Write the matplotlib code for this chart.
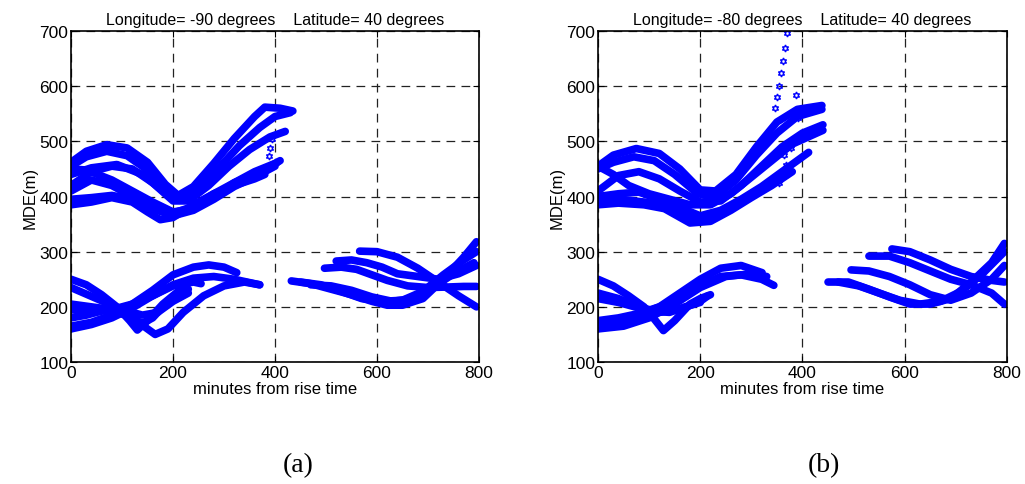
import matplotlib
matplotlib.use('Agg')
import matplotlib.pyplot as plt

titles = ['Longitude= -90 degrees    Latitude= 40 degrees',
          'Longitude= -80 degrees    Latitude= 40 degrees']
panel_tags = ['(a)', '(b)']

# panel (a): curves as (minutes, MDE) pairs
a_upper = [
    ([0, 30, 70, 110, 150, 185, 210, 240, 280, 320, 360, 380, 410, 435],
     [462, 482, 494, 488, 462, 422, 402, 418, 460, 505, 545, 562, 560, 555]),
    ([0, 30, 70, 110, 150, 190, 215, 250, 290, 330, 370, 400, 430],
     [455, 472, 482, 474, 448, 410, 395, 415, 452, 492, 525, 545, 552]),
    ([0, 40, 80, 120, 160, 200, 230, 270, 310, 350, 390, 420],
     [420, 445, 455, 450, 425, 392, 392, 420, 455, 485, 508, 518]),
    ([0, 30, 80, 120, 160, 200, 240, 280, 320, 360, 400, 410],
     [450, 448, 430, 410, 390, 372, 378, 400, 425, 445, 460, 465]),
    ([0, 40, 80, 120, 160, 200, 240, 280, 320, 360, 405],
     [410, 430, 420, 400, 380, 370, 382, 405, 425, 440, 462]),
    ([0, 40, 80, 120, 150, 175, 200, 240, 280, 320, 360, 380],
     [385, 390, 398, 390, 372, 358, 362, 385, 405, 420, 432, 440]),
    ([0, 40, 80, 120, 160, 200, 240, 280, 320, 370, 400],
     [395, 398, 402, 395, 378, 365, 375, 395, 418, 440, 455]),
    ([0, 40, 90, 140, 180, 210],
     [440, 452, 458, 440, 410, 395]),
]
a_lower = [
    ([0, 40, 80, 120, 160, 200, 240, 270, 300, 325],
     [165, 172, 185, 205, 230, 258, 272, 276, 272, 262]),
    ([0, 40, 80, 120, 160, 200, 240, 280, 320, 350, 370],
     [160, 168, 180, 198, 220, 240, 252, 255, 250, 244, 240]),
    ([0, 30, 60, 90, 115, 130, 150, 180, 210, 230],
     [250, 240, 222, 200, 175, 158, 175, 205, 228, 232]),
    ([0, 40, 80, 120, 150, 165, 190, 220, 260, 300, 340, 370],
     [205, 200, 195, 180, 160, 150, 160, 190, 220, 238, 245, 240]),
    ([0, 40, 80, 120, 160, 200, 240, 255],
     [195, 190, 195, 205, 220, 238, 245, 242]),
    ([0, 50, 100, 140, 170, 200, 230],
     [235, 215, 195, 185, 190, 210, 225]),
    ([0, 30, 70, 110, 140, 160, 180, 200, 220],
     [180, 185, 195, 185, 170, 180, 200, 215, 225]),
    ([432, 470, 510, 550, 590, 620, 650, 690, 730, 770, 795],
     [247, 242, 232, 222, 210, 203, 203, 215, 250, 290, 318]),
    ([450, 490, 530, 570, 610, 650, 690, 730, 770, 795],
     [245, 240, 228, 215, 210, 212, 228, 258, 285, 300]),
    ([470, 510, 550, 590, 630, 670, 710, 750, 790],
     [240, 238, 230, 218, 210, 215, 235, 260, 280]),
    ([497, 530, 560, 590, 620, 660, 700, 740, 770, 795],
     [270, 272, 268, 258, 248, 238, 235, 236, 237, 237]),
    ([520, 550, 580, 610, 640, 680, 720, 760, 795],
     [283, 285, 280, 272, 260, 255, 250, 260, 275]),
    ([566, 600, 640, 680, 720, 760, 795],
     [301, 300, 290, 270, 245, 220, 200]),
]
a_loose_x = [388, 390, 395]
a_loose_y = [473, 488, 505]

# panel (b)
b_upper = [
    ([0, 30, 75, 120, 160, 200, 230, 270, 310, 350, 390, 438],
     [455, 475, 487, 478, 450, 412, 410, 440, 490, 535, 558, 565]),
    ([0, 30, 70, 110, 150, 195, 230, 270, 310, 350, 390, 438],
     [450, 462, 472, 465, 440, 405, 400, 430, 475, 515, 545, 558]),
    ([0, 40, 80, 120, 160, 200, 240, 280, 320, 360, 400, 440],
     [410, 438, 445, 432, 410, 390, 392, 420, 455, 490, 515, 530]),
    ([0, 30, 60, 100, 140, 180, 220, 260, 300, 340, 380, 440],
     [455, 440, 420, 405, 395, 385, 385, 405, 435, 465, 495, 520]),
    ([0, 40, 80, 120, 160, 200, 240, 280, 320, 360, 412],
     [400, 405, 408, 395, 380, 365, 375, 395, 418, 445, 480]),
    ([0, 40, 90, 130, 180, 220, 260, 300, 340, 380],
     [385, 388, 385, 378, 352, 355, 375, 398, 420, 445]),
    ([0, 40, 90, 140, 180, 210, 250, 290, 330, 370],
     [395, 395, 390, 382, 365, 360, 372, 395, 418, 440]),
]
b_lower = [
    ([0, 40, 80, 120, 160, 200, 240, 280, 321],
     [165, 172, 185, 200, 225, 250, 270, 275, 262]),
    ([0, 40, 80, 120, 160, 200, 240, 280, 320, 344],
     [175, 180, 188, 200, 215, 238, 255, 258, 250, 239]),
    ([0, 30, 60, 90, 110, 128, 150, 180, 200, 220],
     [250, 238, 220, 200, 178, 157, 175, 205, 215, 222]),
    ([0, 40, 80, 120, 160, 200, 215],
     [225, 215, 200, 190, 195, 210, 220]),
    ([0, 40, 80, 110, 140, 170, 200],
     [215, 208, 198, 192, 190, 200, 208]),
    ([0, 50, 100, 150, 200, 250, 300, 330],
     [160, 165, 180, 205, 235, 255, 260, 255]),
    ([450, 490, 530, 570, 610, 650, 690, 730, 770, 795],
     [245, 245, 232, 218, 205, 205, 215, 245, 280, 315]),
    ([470, 510, 550, 590, 630, 670, 710, 750, 795],
     [245, 238, 225, 212, 205, 210, 228, 258, 300]),
    ([495, 530, 570, 610, 650, 690, 730, 770, 795],
     [267, 265, 255, 240, 222, 212, 225, 250, 275]),
    ([530, 570, 610, 650, 690, 730, 770, 795],
     [292, 292, 280, 265, 250, 240, 225, 205]),
    ([575, 610, 650, 690, 730, 770, 795],
     [305, 300, 285, 268, 255, 248, 245]),
]
b_loose_x = [347, 350, 354, 358, 362, 366, 370, 387, 391, 361, 363, 366, 368, 378, 358, 355]
b_loose_y = [561, 581, 601, 623, 646, 670, 696, 584, 543, 445, 475, 490, 457, 488, 433, 425]

plt.rcParams['font.family'] = ['Liberation Sans', 'DejaVu Sans']

fig = plt.figure(figsize=(10.25, 4.85), dpi=100)
ax_a = fig.add_axes([0.0693, 0.2515, 0.398, 0.6825])
ax_b = fig.add_axes([0.5834, 0.2515, 0.399, 0.6825])

panels = [
    (ax_a, a_upper + a_lower, a_loose_x, a_loose_y),
    (ax_b, b_upper + b_lower, b_loose_x, b_loose_y),
]

for i, (ax, curves, lx, ly) in enumerate(panels):
    for xs, ys in curves:
        ax.plot(xs, ys, color='#0000ff', lw=5.5, solid_capstyle='round',
                solid_joinstyle='round')
    ax.plot(lx, ly, ls='none', marker=(6, 1, 0), ms=5, mfc='none',
            mec='#0000ff', mew=1)
    ax.set_xlim(0, 800)
    ax.set_ylim(100, 700)
    ax.set_xticks([0, 200, 400, 600, 800])
    ax.set_yticks([100, 200, 300, 400, 500, 600, 700])
    ax.grid(True, color='#222222', ls=(0, (7, 5)), lw=0.9)
    ax.tick_params(direction='in', top=True, right=True, labelsize=12.5,
                   length=4, pad=2)
    for s in ax.spines.values():
        s.set_linewidth(1.2)
    ax.set_title(titles[i], fontsize=11.5, pad=5)
    ax.set_xlabel('minutes from rise time', fontsize=12, labelpad=1)
    ax.set_ylabel('MDE(m)', fontsize=12, labelpad=1)

fig.text(298 / 1025, 1 - 466 / 485, panel_tags[0], ha='center', va='center',
         fontsize=20, family='Liberation Serif')
fig.text(824 / 1025, 1 - 466 / 485, panel_tags[1], ha='center', va='center',
         fontsize=20, family='Liberation Serif')

fig.savefig('out.png', dpi=100)
